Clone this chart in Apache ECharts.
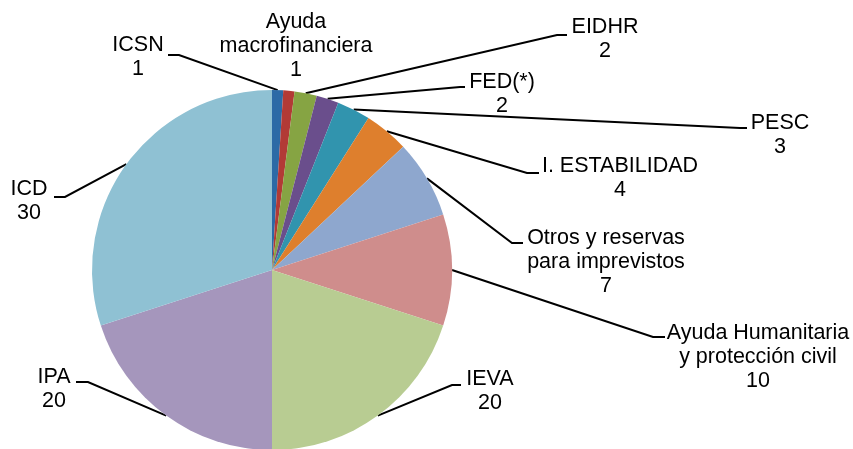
<!DOCTYPE html>
<html>
<head>
<meta charset="utf-8">
<script src="https://cdn.jsdelivr.net/npm/echarts@6/dist/echarts.min.js"></script>
<style>
  html, body { margin: 0; padding: 0; background: #fff; }
  #chart { width: 853px; height: 449px; }
</style>
</head>
<body>
<div id="chart"></div>
<script>
// data
const names = ['ICSN', 'Ayuda\nmacrofinanciera', 'EIDHR', 'FED(*)', 'PESC', 'I. ESTABILIDAD',
  'Otros y reservas\npara imprevistos', 'Ayuda Humanitaria\ny protección civil', 'IEVA', 'IPA', 'ICD']
const values = [1, 1, 2, 2, 3, 4, 7, 10, 20, 20, 30]
const colors = ['#2C6AA6', '#B23A36', '#86A443', '#6A4E8C', '#3194AE', '#DE7F2D',
  '#8EA7CE', '#CF8D8C', '#B8CC92', '#A596BC', '#8FC1D3']

// label placement: text centre, then leader line elbow and end (null = no line)
const labelSpots = [
  { text: [138, 57], elbow: [179, 55], end: [168, 55] },
  { text: [296, 46], elbow: null, end: null },
  { text: [605, 39], elbow: [557, 35], end: [567, 35] },
  { text: [502, 94], elbow: [460, 87], end: [465, 87] },
  { text: [780, 135], elbow: [740, 128], end: [747, 128] },
  { text: [620, 178], elbow: [527, 173], end: [539, 173] },
  { text: [606, 262], elbow: [512, 243], end: [523, 243] },
  { text: [758, 357], elbow: [653, 337], end: [665, 337] },
  { text: [490, 391], elbow: [452, 385], end: [461, 385] },
  { text: [54, 389], elbow: [88, 382], end: [76, 382] },
  { text: [29, 201], elbow: [65, 197], end: [54, 197] }
]

const chart = echarts.init(document.getElementById('chart'))

const option = {
  animation: false,
  color: colors,
  series: [{
    type: 'pie',
    center: [272, 270],
    radius: 180,
    startAngle: 90,
    clockwise: true,
    avoidLabelOverlap: false,
    itemStyle: { borderWidth: 0 },
    label: {
      show: true,
      formatter: '{b}\n{c}',
      fontFamily: 'Liberation Sans, Arial, sans-serif',
      fontSize: 21.5,
      lineHeight: 24,
      color: '#000',
      align: 'center'
    },
    labelLine: {
      show: true,
      lineStyle: { color: '#000', width: 2 }
    },
    labelLayout: (params) => {
      const spot = labelSpots[params.dataIndex]
      const out = {
        x: spot.text[0],
        y: spot.text[1],
        align: 'center',
        verticalAlign: 'middle'
      }
      if (spot.elbow && params.labelLinePoints) {
        out.labelLinePoints = [params.labelLinePoints[0], spot.elbow, spot.end]
      }
      return out
    },
    data: names.map((n, i) => ({
      name: n,
      value: values[i],
      labelLine: { show: labelSpots[i].elbow !== null }
    }))
  }]
}

chart.setOption(option)
</script>
</body>
</html>
